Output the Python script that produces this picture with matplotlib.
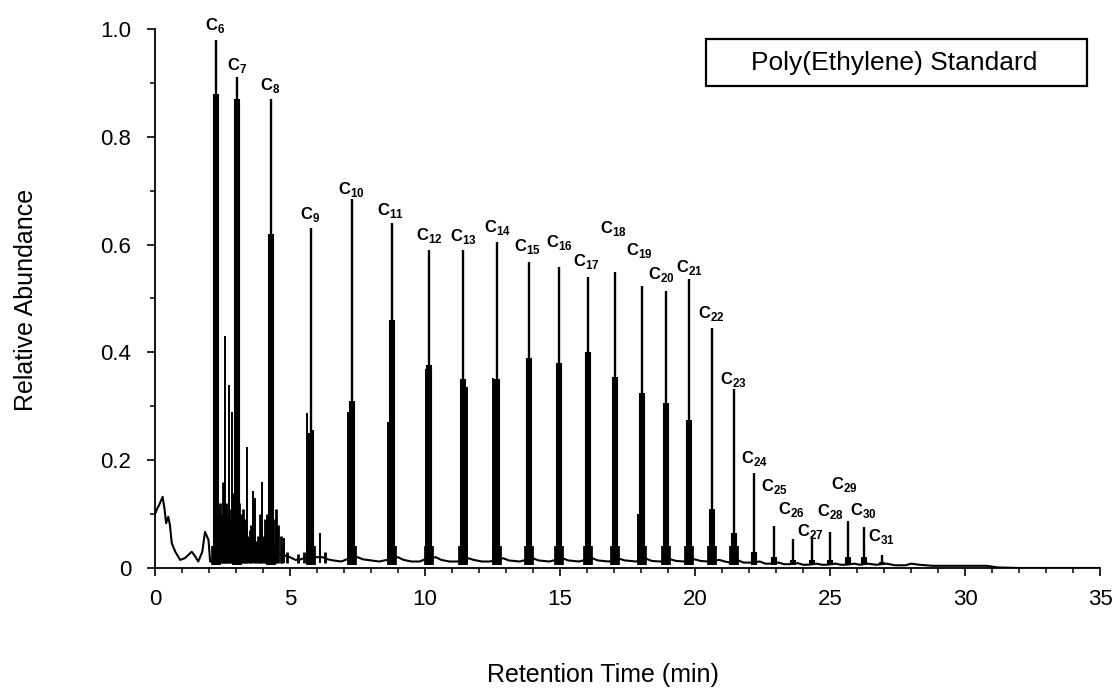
import numpy as np
import matplotlib.pyplot as plt
from matplotlib.patches import Rectangle
from matplotlib.ticker import MultipleLocator, FuncFormatter

plt.rcParams['font.family'] = ['Liberation Sans', 'DejaVu Sans']
plt.rcParams['mathtext.fontset'] = 'custom'
plt.rcParams['mathtext.rm'] = 'Liberation Sans:bold'
plt.rcParams['mathtext.bf'] = 'Liberation Sans:bold'

# labelled n-alkane peaks: carbon number, retention time (min), apex, top of broad lower body
carbon = list(range(6, 32))
peak_rt = [2.26, 3.05, 4.30, 5.77, 7.28, 8.77, 10.15, 11.42, 12.68, 13.84, 14.98, 16.02, 17.05,
           18.02, 18.93, 19.78, 20.64, 21.44, 22.19, 22.93, 23.64, 24.35, 25.00, 25.65, 26.27, 26.94]
peak_h = [0.98, 0.91, 0.87, 0.63, 0.685, 0.64, 0.59, 0.59, 0.605, 0.567, 0.558, 0.54, 0.549,
          0.523, 0.513, 0.536, 0.445, 0.332, 0.176, 0.078, 0.054, 0.06, 0.067, 0.088, 0.076, 0.024]
body_h = [0.88, 0.87, 0.62, 0.25, 0.31, 0.46, 0.377, 0.35, 0.35, 0.39, 0.38, 0.40, 0.355,
          0.325, 0.306, 0.275, 0.11, 0.065, 0.03, 0.02, 0.015, 0.015, 0.015, 0.02, 0.02, 0.01]

# unlabelled side peaks next to the main ones
side_rt = [2.35, 2.59, 2.75, 2.84, 3.40, 3.62, 3.70, 3.97, 4.79, 5.64, 5.86, 6.11,
           7.16, 7.35, 8.64, 10.02, 11.36, 11.54, 12.53, 17.9, 18.85, 19.7]
side_h = [0.17, 0.43, 0.34, 0.29, 0.225, 0.142, 0.13, 0.16, 0.056, 0.288, 0.256, 0.065,
          0.29, 0.30, 0.27, 0.37, 0.35, 0.336, 0.352, 0.10, 0.12, 0.157]

# grass of small peaks in the early part of the run
noise_rt = [2.30, 2.34, 2.40, 2.45, 2.50, 2.55, 2.60, 2.64, 2.70, 2.75, 2.80, 2.86, 2.90, 2.97,
            3.12, 3.17, 3.20, 3.27, 3.33, 3.38, 3.45, 3.50, 3.56, 3.66, 3.75, 3.80, 3.87, 3.92,
            4.01, 4.06, 4.12, 4.16, 4.44, 4.48, 4.56, 4.66, 4.72, 4.9, 5.3, 5.5, 6.3]
noise_h = [0.09, 0.11, 0.12, 0.10, 0.16, 0.08, 0.11, 0.12, 0.10, 0.09, 0.11, 0.10, 0.14, 0.20,
           0.12, 0.09, 0.10, 0.11, 0.09, 0.07, 0.06, 0.07, 0.08, 0.05, 0.05, 0.06, 0.10, 0.07,
           0.06, 0.09, 0.07, 0.10, 0.09, 0.11, 0.08, 0.06, 0.04, 0.03, 0.025, 0.03, 0.03]

# baseline trace
base_t = [0.0, 0.08, 0.18, 0.28, 0.35, 0.41, 0.49, 0.55, 0.62, 0.75, 0.93, 1.1, 1.36, 1.48,
          1.6, 1.75, 1.85, 1.98, 2.04, 2.16, 2.22, 2.3, 2.6, 2.9, 3.2, 3.5, 3.8, 4.1, 4.4,
          4.7, 5.0, 5.2, 5.4, 5.5, 5.6, 6.2, 6.4, 6.6, 6.9, 7.1, 7.5, 7.7, 8.0, 8.3, 8.6,
          9.0, 9.2, 9.5, 9.8, 10.0, 10.4, 10.6, 10.9, 11.2, 11.6, 11.8, 12.1, 12.4, 12.9,
          13.1, 13.5, 14.0, 14.2, 14.6, 15.1, 15.3, 15.7, 16.2, 16.4, 16.8, 17.2, 17.4, 17.8,
          18.2, 18.4, 18.7, 19.1, 19.3, 19.6, 20.0, 20.2, 20.5, 20.9, 21.1, 21.3, 21.6, 21.8,
          22.1, 22.4, 22.6, 22.8, 23.1, 23.3, 23.5, 23.8, 24.0, 24.2, 24.5, 24.7, 24.9, 25.2,
          25.4, 25.6, 25.9, 26.1, 26.4, 26.7, 27.1, 27.4, 27.8, 28.0, 28.3, 28.8, 29.5, 30.2,
          30.8, 31.2, 32.0, 35.0]
base_y = [0.10, 0.11, 0.12, 0.132, 0.11, 0.083, 0.095, 0.08, 0.046, 0.03, 0.015, 0.018, 0.03,
          0.022, 0.012, 0.03, 0.067, 0.052, 0.012, 0.012, 0.08, 0.05, 0.04, 0.05, 0.035, 0.04,
          0.03, 0.035, 0.03, 0.025, 0.02, 0.015, 0.016, 0.018, 0.02, 0.02, 0.016, 0.014, 0.012,
          0.016, 0.02, 0.016, 0.014, 0.012, 0.015, 0.02, 0.015, 0.012, 0.012, 0.016, 0.02, 0.015,
          0.012, 0.012, 0.018, 0.015, 0.012, 0.012, 0.018, 0.014, 0.012, 0.018, 0.014, 0.012,
          0.018, 0.014, 0.012, 0.018, 0.014, 0.012, 0.017, 0.014, 0.012, 0.017, 0.013, 0.012,
          0.016, 0.013, 0.012, 0.016, 0.013, 0.012, 0.015, 0.012, 0.01, 0.014, 0.01, 0.01, 0.012,
          0.008, 0.008, 0.01, 0.007, 0.007, 0.009, 0.006, 0.006, 0.008, 0.006, 0.006, 0.008,
          0.006, 0.006, 0.008, 0.006, 0.008, 0.006, 0.008, 0.005, 0.005, 0.008, 0.006, 0.004,
          0.004, 0.004, 0.004, 0.001, 0.0, 0.0]

# label offsets from each apex, in pixels (layout only)
label_dx = [-1, 0, -1, -1, 0, -1, 0, 0, 0, -1, 0, -1, -2, -2, -5, 0, -1, -1, 0, 0, -2, -2, 0, -3, -1, -1]
label_dy = [14, 12, 14, 14, 9, 12, 14, 13, 14, 16, 25, 15, 44, 36, 17, 12, 15, 10, 15, 39, 29, 4, 20, 36, 17, 19]

fig = plt.figure(figsize=(11.17, 6.94), dpi=100)
ax = fig.add_axes([0.1388, 0.1816, 0.846, 0.7767])

ax.plot(base_t, base_y, color='k', lw=1.5)
ax.vlines(noise_rt, 0.01, noise_h, color='k', lw=2.0)
ax.vlines(side_rt, 0.01, side_h, color='k', lw=1.4)
ax.vlines(peak_rt[:18], 0.005, 0.04, color='k', lw=7)
ax.vlines(peak_rt[18:], 0.005, 0.012, color='k', lw=4)
ax.vlines(peak_rt, 0.005, body_h, color='k', lw=4.4)
ax.vlines(peak_rt, 0.005, peak_h, color='k', lw=1.7)

for n, x, y, dx, dy in zip(carbon, peak_rt, peak_h, label_dx, label_dy):
    ax.annotate('C$_{%d}$' % n, xy=(x, y), xytext=(dx, dy), textcoords='offset pixels',
                ha='center', va='center', fontsize=12, fontweight='bold')

ax.set_xlim(0, 35)
ax.set_ylim(0, 1.0)
ax.xaxis.set_major_locator(MultipleLocator(5))
ax.xaxis.set_minor_locator(MultipleLocator(1))
ax.yaxis.set_major_locator(MultipleLocator(0.2))
ax.yaxis.set_minor_locator(MultipleLocator(0.1))
ax.yaxis.set_major_formatter(FuncFormatter(lambda v, p: '0' if abs(v) < 1e-9 else '%.1f' % v))
ax.tick_params(which='major', direction='out', length=6, width=1.2, labelsize=16)
ax.tick_params(which='minor', direction='out', length=3.5, width=1.1)
ax.tick_params(axis='y', pad=11)
ax.tick_params(axis='x', pad=9)
for side in ['top', 'right']:
    ax.spines[side].set_visible(False)
for side in ['left', 'bottom']:
    ax.spines[side].set_linewidth(1.3)

ax.text(0.474, -0.198, 'Retention Time (min)', transform=ax.transAxes,
        ha='center', va='center', fontsize=18)
ax.text(-0.1365, 0.497, 'Relative Abundance', transform=ax.transAxes,
        ha='center', va='center', rotation=90, fontsize=18)

ax.add_patch(Rectangle((0.5828, 0.895), 0.403, 0.086, transform=ax.transAxes,
                       fill=False, lw=1.6, edgecolor='k', clip_on=False))
ax.text(0.782, 0.937, 'Poly(Ethylene) Standard', transform=ax.transAxes,
        ha='center', va='center', fontsize=19)

fig.savefig('out.png', dpi=100)
